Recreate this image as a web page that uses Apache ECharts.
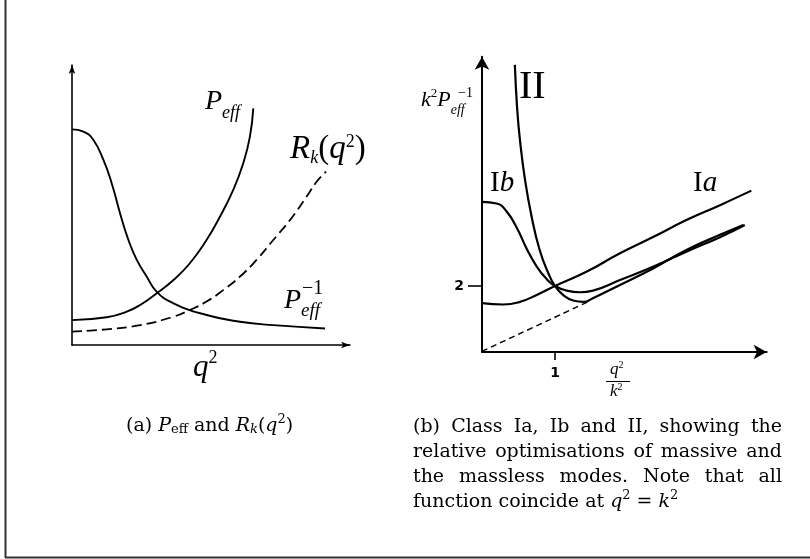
<!DOCTYPE html>
<html>
<head>
<meta charset="utf-8">
<script src="https://cdn.jsdelivr.net/npm/echarts@6/dist/echarts.min.js"></script>
<style>
  html, body { margin: 0; padding: 0; background: #fff; }
  #chart { width: 810px; height: 559px; }
</style>
</head>
<body>
<div id="chart"></div>
<script>
// Panel (a): sketch curves in arbitrary units
const pEffInv = [[0, 7.70], [0.41, 7.62], [0.77, 7.32], [1.13, 6.61], [1.43, 5.77], [1.73, 4.70], [2.03, 3.75], [2.33, 3.04], [2.69, 2.44], [3.05, 1.90], [3.65, 1.49], [4.84, 1.07], [6.04, 0.83], [7.24, 0.71], [9.10, 0.59]];
const pEff = [[0, 0.89], [1.25, 0.99], [1.97, 1.19], [2.45, 1.43], [3.05, 1.85], [3.65, 2.32], [4.24, 2.92], [4.84, 3.75], [5.32, 4.58], [5.80, 5.54], [6.16, 6.49], [6.40, 7.44], [6.52, 8.45]];
const rk = [[0, 0.48], [1.25, 0.56], [2.45, 0.71], [3.65, 1.01], [4.24, 1.25], [4.84, 1.55], [5.44, 1.96], [6.04, 2.44], [6.64, 3.04], [7.24, 3.75], [7.84, 4.46], [8.44, 5.30], [8.80, 5.83], [9.14, 6.19]];

// Panel (b): k^2 P_eff^-1 against q^2/k^2
const classIa = [[0, 1.48], [0.29, 1.44], [0.52, 1.52], [0.75, 1.73], [1.0, 2.0], [1.43, 2.43], [1.89, 2.99], [2.35, 3.49], [2.80, 4.0], [3.26, 4.45], [3.69, 4.89]];
const classIb = [[0, 4.55], [0.2, 4.5], [0.34, 4.25], [0.48, 3.75], [0.61, 3.14], [0.75, 2.59], [0.89, 2.20], [1.0, 2.0], [1.16, 1.86], [1.34, 1.81], [1.52, 1.86], [1.89, 2.18], [2.35, 2.59], [2.80, 3.04], [3.26, 3.48], [3.60, 3.85]];
const classII = [[0.45, 8.70], [0.48, 7.43], [0.52, 6.42], [0.59, 5.21], [0.68, 4.10], [0.79, 3.09], [0.91, 2.38], [1.0, 2.0], [1.11, 1.73], [1.25, 1.56], [1.39, 1.52], [1.52, 1.63], [1.89, 2.03], [2.35, 2.54], [2.80, 3.09], [3.26, 3.55], [3.58, 3.85]];
const massless = [[0, 0.02], [1.45, 1.52]];
const xTicks = [1];
const yTicks = [2];

const captionB = ['(b) Class Ia, Ib and II, showing the', 'relative optimisations of massive and', 'the massless modes.  Note that all'];

// layout (pixels)
const A = { left: 72, bottom: 345, px: 27.8, py: 28, xMax: 10, yMax: 10 };
const B = { left: 482, bottom: 352, px: 73, py: 33, xMax: 3.9, yMax: 8.95 };
const serif = '"Liberation Serif", "Times New Roman", serif';
const capSerif = '"DejaVu Serif", serif';
const capSize = 19;

const chart = echarts.init(document.getElementById('chart'), null, { renderer: 'canvas' });

const noAxisBits = { axisTick: { show: false }, axisLabel: { show: false }, splitLine: { show: false } };
const lineA = { show: true, lineStyle: { color: '#000', width: 1.6 }, symbol: ['none', 'arrow'], symbolSize: [5, 9] };
const lineB = { show: true, lineStyle: { color: '#000', width: 2 }, symbol: ['none', 'arrow'], symbolSize: [11, 13] };
const tickFont = { fontFamily: 'DejaVu Sans', fontWeight: 'bold', fontSize: 14, color: '#000' };

function curve(axis, data, width, dash) {
  return {
    type: 'line', xAxisIndex: axis, yAxisIndex: axis, data,
    smooth: 0.5, showSymbol: false, symbol: 'none', silent: true,
    lineStyle: { color: '#000', width, type: dash || 'solid' }
  };
}

// small math-ish labels, drawn as rich text
const st = (size, italic, shift, family) => {
  const s = { fontSize: size, fontFamily: family || serif, fontStyle: italic ? 'italic' : 'normal', verticalAlign: 'middle', fill: '#000' };
  if (shift > 0) s.padding = [shift * 2, 0, 0, 0];
  if (shift < 0) s.padding = [0, 0, -shift * 2, 0];
  return s;
};
function label(x, y, text, rich) {
  return { type: 'text', x, y, silent: true, style: { text, rich, fill: '#000', align: 'left', verticalAlign: 'middle', fontFamily: serif } };
}

const graphics = [
  // frame
  { type: 'line', silent: true, shape: { x1: 5.5, y1: 0, x2: 5.5, y2: 558 }, style: { stroke: '#333', lineWidth: 2 } },
  { type: 'line', silent: true, shape: { x1: 5, y1: 557.5, x2: 810, y2: 557.5 }, style: { stroke: '#333', lineWidth: 2 } },

  // panel (a)
  label(205, 102, '{m|P}{s|eff}', { m: st(28, true, 0), s: st(18, true, 11) }),
  label(290, 149, '{m|R}{s|k}{r|(}{m|q}{p|2}{r|)}', { m: st(33, true, 0), r: st(33, false, 0), s: st(18, true, 9), p: st(18, false, -7) }),
  label(284, 301, '{m|P}{s|eff}', { m: st(28, true, 0), s: st(19, true, 10) }),
  label(302, 289, '{r|−1}', { r: st(20, false, 0) }),
  label(193, 368, '{m|q}{p|2}', { m: st(31, true, 0), p: st(18, false, -10) }),

  // panel (b)
  label(421, 100, '{m|k}{p|2}{m|P}{s|eff}', { m: st(22, true, 0), p: st(13, false, -6), s: st(14, true, 10) }),
  label(458, 93, '{r|−1}', { r: st(14, false, 0) }),
  label(519, 87, '{r|II}', { r: st(40, false, 0) }),
  label(490, 183, '{r|I}{i|b}', { r: st(29, false, 0), i: st(29, true, 0) }),
  label(693, 183, '{r|I}{i|a}', { r: st(29, false, 0), i: st(29, true, 0) }),
  label(610, 370, '{m|q}{p|2}', { m: st(17, true, 0), p: st(10, false, -5) }),
  { type: 'line', silent: true, shape: { x1: 606, y1: 381.5, x2: 630, y2: 381.5 }, style: { stroke: '#000', lineWidth: 1 } },
  label(610, 392, '{m|k}{p|2}', { m: st(17, true, 0), p: st(10, false, -5) }),

  // captions
  label(126, 426, '{r|(a) }{i|P}{s|eff}{r| and }{i|R}{si|k}{r|(}{i|q}{p|2}{r|)}',
    { r: st(capSize, false, 0, capSerif), i: st(capSize, true, 0, capSerif), s: st(13, false, 4, capSerif), si: st(13, true, 4, capSerif), p: st(13, false, -6, capSerif) }),
  label(413, 502, '{r|function coincide at }{i|q}{p|2}{r| = }{i|k}{p|2}',
    { r: st(capSize, false, 0, capSerif), i: st(capSize, true, 0, capSerif), p: st(13, false, -6, capSerif) })
];

// justified caption lines
const ctx = document.createElement('canvas').getContext('2d');
ctx.font = capSize + 'px "DejaVu Serif"';
captionB.forEach((line, li) => {
  const words = line.split(/\s+/);
  const widths = words.map((w) => ctx.measureText(w).width);
  const total = widths.reduce((a, b) => a + b, 0);
  const gap = (782 - 413 - total) / (words.length - 1);
  let x = 413;
  words.forEach((w, i) => {
    graphics.push(label(x, 427 + li * 25, '{r|' + w + '}', { r: st(capSize, false, 0, capSerif) }));
    x += widths[i] + gap;
  });
});

chart.setOption({
  animation: false,
  grid: [
    { left: A.left, top: A.bottom - A.yMax * A.py, width: A.xMax * A.px, height: A.yMax * A.py },
    { left: B.left, top: B.bottom - B.yMax * B.py, width: B.xMax * B.px, height: B.yMax * B.py }
  ],
  xAxis: [
    { gridIndex: 0, type: 'value', min: 0, max: A.xMax, axisLine: lineA, ...noAxisBits },
    {
      gridIndex: 1, type: 'value', min: 0, max: B.xMax, axisLine: lineB, splitLine: { show: false },
      axisTick: { show: true, length: 8, customValues: xTicks, lineStyle: { color: '#000', width: 1.6 } },
      axisLabel: { show: true, customValues: xTicks, margin: 14, showMinLabel: false, showMaxLabel: false, ...tickFont }
    }
  ],
  yAxis: [
    { gridIndex: 0, type: 'value', min: 0, max: A.yMax, axisLine: lineA, ...noAxisBits },
    {
      gridIndex: 1, type: 'value', min: 0, max: B.yMax, axisLine: lineB, splitLine: { show: false },
      axisTick: { show: true, length: 14, customValues: yTicks, lineStyle: { color: '#000', width: 1.6 } },
      axisLabel: { show: true, customValues: yTicks, margin: 18, showMinLabel: false, showMaxLabel: false, ...tickFont }
    }
  ],
  series: [
    curve(0, pEffInv, 1.9),
    curve(0, pEff, 1.9),
    curve(0, rk, 1.8, [10, 5]),
    curve(1, classIa, 2.2),
    curve(1, classIb, 2.2),
    curve(1, classII, 2.2),
    curve(1, massless, 1.5, [6, 4])
  ],
  graphic: graphics
});
</script>
</body>
</html>
